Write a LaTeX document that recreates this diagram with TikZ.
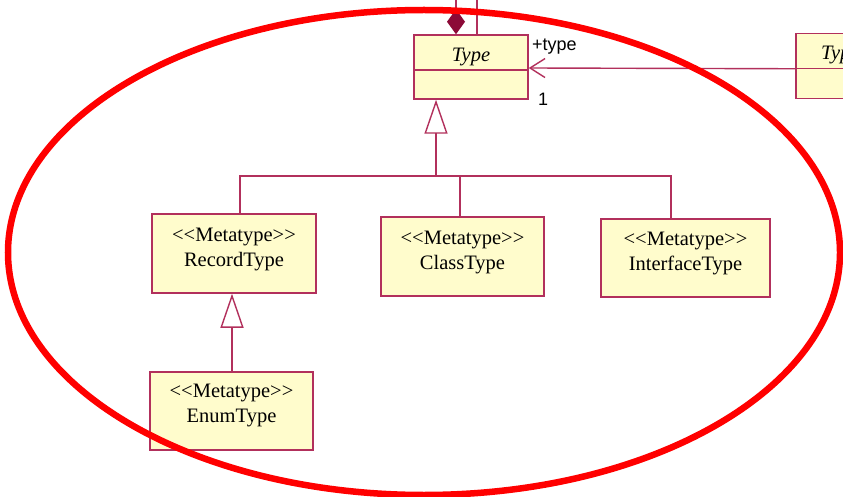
\documentclass[tikz,border=0pt]{standalone}
\usepackage{fontspec}
\setmainfont{Liberation Serif}
\newfontfamily\labelfont{Liberation Sans}
\usetikzlibrary{arrows.meta}
\definecolor{umlline}{RGB}{178,48,92}
\definecolor{umlfill}{RGB}{255,252,204}
\definecolor{umldiamond}{RGB}{140,10,55}
% stereotype brackets, kept apart so they never join into guillemets
\newcommand\stereotype[1]{<\kern0pt<#1>\kern0pt>}

\begin{document}
\begin{tikzpicture}[x=1pt,y=-1pt,
  classbox/.style={draw=umlline, line width=1.5pt, fill=umlfill, inner sep=0pt},
  classtext/.style={align=center, inner sep=0pt, font=\fontsize{20.5}{25}\selectfont},
  link/.style={draw=umlline, line width=1.4pt},
  general/.style={link, -{Triangle[open, length=34pt, width=23pt, line width=1.4pt]}},
  typename/.style={font=\fontsize{20.5}{25}\selectfont\itshape},
  assoclabel/.style={font=\labelfont\fontsize{18}{20}\selectfont, inner sep=0pt},
]
\clip (0,0) rectangle (843,497);
\fill[white] (0,0) rectangle (843,497);

% abstract base class
\node[classbox, minimum width=114pt, minimum height=64pt] (type) at (471,67) {};
\draw[link] ([yshift=-3pt]type.west) -- ([yshift=-3pt]type.east);
\node[typename] (typetitle) at (471,57) {Type};

% owner class on the right, partly outside the page
\node[classbox, minimum width=130pt, minimum height=65pt, anchor=north west] (owner) at (795,33) {};
\draw[link] ([yshift=-2.5pt]owner.west) -- ([yshift=-2.5pt]owner.east);
\node[typename, anchor=west, inner sep=0pt] (ownertitle) at (821,55) {Type};

% association with role and multiplicity
\draw[link, -{Straight Barb[length=15pt, width=19pt, line width=1.4pt]}]
  ([yshift=-2.5pt]owner.west) -- (type.east |- 0,68);
\node[assoclabel, anchor=west] (role) at (532,47) {+type};
\node[assoclabel] (mult) at (543,99) {1};

% composition and link leaving the top edge
\coordinate (compTop) at (456,-5);
\coordinate (linkTop) at (477,-5);
\draw[link, -{Diamond[length=25pt, width=18pt, color=umldiamond]}] (compTop) -- (compTop |- type.north);
\draw[link] (linkTop |- type.north) -- (linkTop);

% metatypes
\node[classbox, minimum width=164pt, minimum height=79pt] (record) at (234,253.5) {};
\node[classtext] (recordtext) at (234,250) {\stereotype{Metatype}\\RecordType};
\node[classbox, minimum width=163pt, minimum height=79pt] (class) at (462.5,256.5) {};
\node[classtext] (classtext) at (462.5,252.5) {\stereotype{Metatype}\\ClassType};
\node[classbox, minimum width=169pt, minimum height=78pt] (interface) at (685.5,258) {};
\node[classtext] (interfacetext) at (685.5,254) {\stereotype{Metatype}\\InterfaceType};
\node[classbox, minimum width=163pt, minimum height=78pt] (enum) at (231.5,411) {};
\node[classtext] (enumtext) at (231.5,405.5) {\stereotype{Metatype}\\EnumType};

% generalisations
\coordinate (split) at (436,176);
\draw[general] (split) -- (split |- type.south);
\draw[link] (240,0 |- record.north) |- (split) -| (671,0 |- interface.north);
\draw[link] (460,0 |- class.north) -- (460,0 |- split);
\draw[general] (232,0 |- enum.north) -- (232,0 |- record.south);

% highlight ring
\draw[red, line width=6.5pt] (424,252.5) ellipse [x radius=416, y radius=242.5];
\end{tikzpicture}
\end{document}
